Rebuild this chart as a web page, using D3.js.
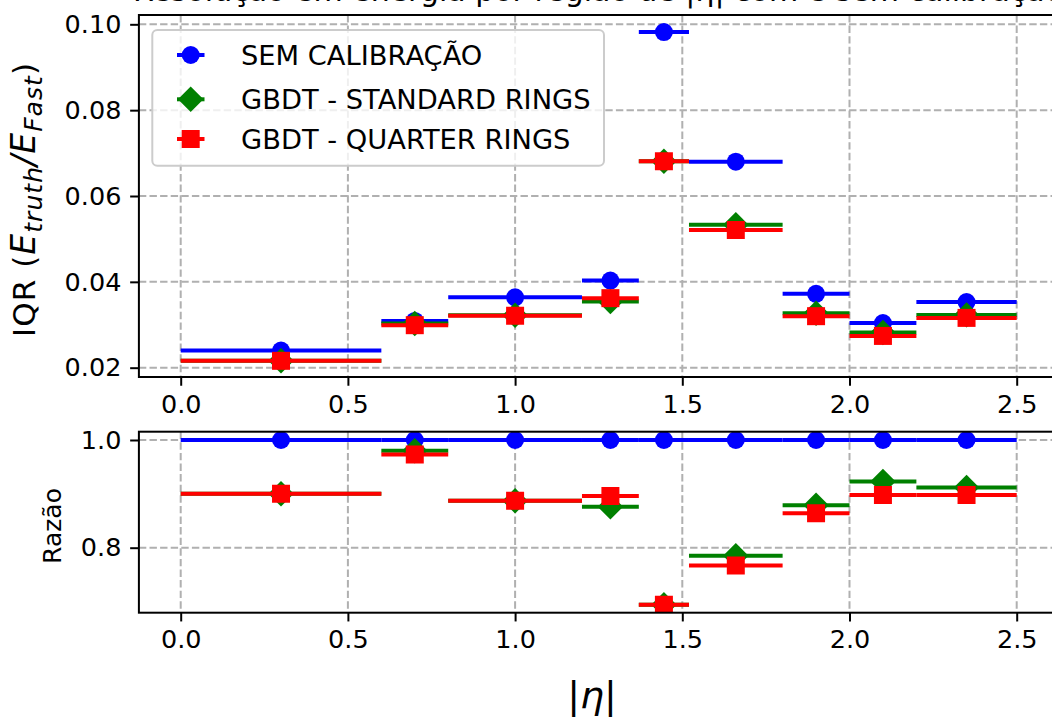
<!DOCTYPE html>
<html>
<head>
<meta charset="utf-8">
<script src="https://cdn.jsdelivr.net/npm/d3@7"></script>
<style>
  html, body { margin: 0; padding: 0; background: #fff; }
  svg { display: block; font-family: "DejaVu Sans", sans-serif; }
</style>
</head>
<body>
<svg id="chart" width="1052" height="717"></svg>
<script>
// |eta| bins: lower edge, upper edge and marker position
const etaLo     = [0.0, 0.6, 0.8, 1.2, 1.37, 1.52, 1.8, 2.0, 2.2];
const etaHi     = [0.6, 0.8, 1.2, 1.37, 1.52, 1.8, 2.0, 2.2, 2.5];
const etaCenter = [0.3, 0.7, 1.0, 1.285, 1.445, 1.66, 1.9, 2.1, 2.35];

// IQR of E_truth / E_Fast per bin
const iqrSem      = [0.0240, 0.0309, 0.0364, 0.0403, 0.0982, 0.0680, 0.0372, 0.0304, 0.0353];
const iqrStandard = [0.0216, 0.0303, 0.0322, 0.0354, 0.0681, 0.0533, 0.0327, 0.0282, 0.0323];
const iqrQuarter  = [0.0216, 0.0299, 0.0321, 0.0362, 0.0681, 0.0521, 0.0320, 0.0274, 0.0316];

// Ratio to the uncalibrated IQR
const ratioSem      = [1.0, 1.0, 1.0, 1.0, 1.0, 1.0, 1.0, 1.0, 1.0];
const ratioStandard = [0.900, 0.980, 0.887, 0.876, 0.694, 0.785, 0.879, 0.923, 0.912];
const ratioQuarter  = [0.900, 0.973, 0.887, 0.896, 0.694, 0.767, 0.864, 0.898, 0.898];

const seriesNames = ["SEM CALIBRAÇÃO", "GBDT - STANDARD RINGS", "GBDT - QUARTER RINGS"];
const seriesColors = ["#0000ff", "#008000", "#ff0000"];
const seriesMarkers = ["circle", "diamond", "square"];

const xTicks = [0.0, 0.5, 1.0, 1.5, 2.0, 2.5];
const yTopTicks = [0.02, 0.04, 0.06, 0.08, 0.10];
const yBotTicks = [0.8, 1.0];

const svg = d3.select("#chart");

const x = d3.scaleLinear().domain([-0.125, 2.625]).range([138.9, 1058.5]);
const yTop = d3.scaleLinear().domain([0.01783, 0.10217]).range([377, 15]);
const yBot = d3.scaleLinear().domain([0.6793, 1.0154]).range([612.7, 431.7]);

const MS = 18;       // marker size in px
const ELW = 4;       // error-bar line width
const tickFont = 25.5;

function markerPath(kind) {
  const h = MS / 2;
  if (kind === "circle") return d3.symbol().type(d3.symbolCircle).size(Math.PI * h * h)();
  if (kind === "square") return `M${-h},${-h}H${h}V${h}H${-h}Z`;
  const d = MS * Math.SQRT2 / 2;
  return `M0,${-d}L${d},0L0,${d}L${-d},0Z`;
}

function drawPanel(y, yTicks, yFmt, values, clipId) {
  const x0 = x.range()[0], x1 = x.range()[1];
  const yb = y.range()[0], yt = y.range()[1];

  svg.append("clipPath").attr("id", clipId)
    .append("rect").attr("x", x0).attr("y", yt).attr("width", x1 - x0).attr("height", yb - yt);

  // grid
  const grid = svg.append("g").attr("stroke", "#b0b0b0").attr("stroke-width", 2)
    .attr("stroke-dasharray", "7.4,3.2");
  grid.selectAll("line.v").data(xTicks).join("line")
    .attr("x1", d => x(d)).attr("x2", d => x(d)).attr("y1", yt).attr("y2", yb);
  grid.selectAll("line.h").data(yTicks).join("line")
    .attr("x1", x0).attr("x2", x1).attr("y1", d => y(d)).attr("y2", d => y(d));

  // series: horizontal bin-width bars, then markers
  const plot = svg.append("g").attr("clip-path", `url(#${clipId})`);
  values.forEach((vals, s) => {
    const g = plot.append("g");
    g.selectAll("line").data(vals).join("line")
      .attr("x1", (d, i) => x(etaLo[i])).attr("x2", (d, i) => x(etaHi[i]))
      .attr("y1", d => y(d)).attr("y2", d => y(d))
      .attr("stroke", seriesColors[s]).attr("stroke-width", ELW);
    g.selectAll("path").data(vals).join("path")
      .attr("d", markerPath(seriesMarkers[s]))
      .attr("transform", (d, i) => `translate(${x(etaCenter[i])},${y(d)})`)
      .attr("fill", seriesColors[s]);
  });

  // axes
  const yAxis = svg.append("g").attr("transform", `translate(${x0},0)`)
    .call(d3.axisLeft(y).tickValues(yTicks).tickFormat(d3.format(yFmt)).tickSize(8.75).tickPadding(8.75));
  const xAxis = svg.append("g").attr("transform", `translate(0,${yb})`)
    .call(d3.axisBottom(x).tickValues(xTicks).tickFormat(d3.format(".1f")).tickSize(8.75).tickPadding(8.75));
  [xAxis, yAxis].forEach(a => {
    a.select(".domain").remove();
    a.selectAll(".tick line").attr("stroke", "#000").attr("stroke-width", 2);
    a.selectAll(".tick text").attr("fill", "#000").attr("font-size", tickFont)
      .attr("font-family", "DejaVu Sans");
  });

  // frame
  svg.append("rect").attr("x", x0).attr("y", yt).attr("width", x1 - x0).attr("height", yb - yt)
    .attr("fill", "none").attr("stroke", "#000").attr("stroke-width", 2);
}

drawPanel(yTop, yTopTicks, ".2f", [iqrSem, iqrStandard, iqrQuarter], "clipTop");
drawPanel(yBot, yBotTicks, ".1f", [ratioSem, ratioStandard, ratioQuarter], "clipBot");

// title, sitting above the top edge of the figure
svg.append("text").attr("x", 598).attr("y", 1).attr("text-anchor", "middle")
  .attr("font-size", 30).attr("fill", "#000")
  .text("Resolução em energia por região de |η| com e sem calibração");

// y label, top panel
const yl = svg.append("text").attr("transform", "translate(35,200) rotate(-90)")
  .attr("text-anchor", "middle").attr("font-size", 31).attr("fill", "#000")
  .attr("textLength", 274).attr("lengthAdjust", "spacing");
yl.append("tspan").text("IQR (");
yl.append("tspan").attr("font-style", "italic").attr("font-size", 33).text("E");
yl.append("tspan").attr("font-style", "italic").attr("font-size", 25).attr("dy", 7).text("truth");
yl.append("tspan").attr("font-style", "italic").attr("font-size", 33).attr("dy", -7).text("/E");
yl.append("tspan").attr("font-style", "italic").attr("font-size", 25).attr("dy", 7).text("Fast");
yl.append("tspan").attr("dy", -7).text(")");

// y label, ratio panel
svg.append("text").attr("transform", "translate(61,526) rotate(-90)")
  .attr("text-anchor", "middle").attr("font-size", 25).attr("fill", "#000").text("Razão");

// x label
const xl = svg.append("text").attr("x", 592).attr("y", 708).attr("text-anchor", "middle")
  .attr("font-size", 38).attr("fill", "#000");
xl.append("tspan").text("|");
xl.append("tspan").attr("font-style", "italic").text("η");
xl.append("tspan").text("|");

// legend
const lg = svg.append("g");
lg.append("rect").attr("x", 152.3).attr("y", 30).attr("width", 451.7).attr("height", 135.7)
  .attr("rx", 5).attr("fill", "#fff").attr("fill-opacity", 0.8)
  .attr("stroke", "#cccccc").attr("stroke-width", 2);
const rowY = [55, 99.3, 139];
seriesNames.forEach((name, s) => {
  const cy = rowY[s];
  lg.append("line").attr("x1", 177).attr("x2", 204.5).attr("y1", cy).attr("y2", cy)
    .attr("stroke", seriesColors[s]).attr("stroke-width", ELW);
  lg.append("path").attr("d", markerPath(seriesMarkers[s]))
    .attr("transform", `translate(190.7,${cy})`).attr("fill", seriesColors[s]);
  lg.append("text").attr("x", 241).attr("y", cy + 9.8).attr("font-size", 27.3)
    .attr("fill", "#000").text(name);
});
</script>
</body>
</html>
